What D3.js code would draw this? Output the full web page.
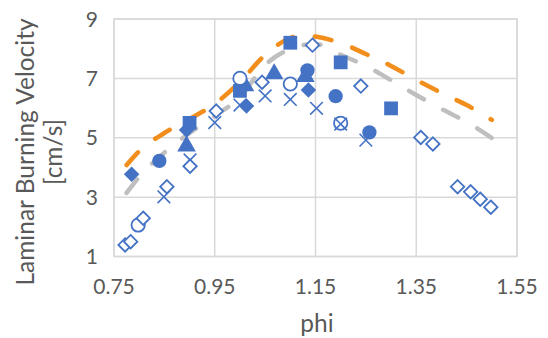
<!DOCTYPE html>
<html>
<head>
	<meta charset="utf-8">
	<title>Laminar Burning Velocity vs phi</title>
	<script src="https://cdnjs.cloudflare.com/ajax/libs/d3/7.8.5/d3.min.js"></script>
	<style type="text/css">
		body { margin: 0; background: #fff; }
		svg { display: block; font-family: Lato, "Open Sans", sans-serif; }
		.tick-label { fill: #595959; font-size: 21px; }
		.axis-title { fill: #595959; font-size: 24.5px; }
		.grid line { stroke: #d9d9d9; stroke-width: 1.5px; }
		.model { fill: none; stroke-width: 4.5px; stroke-linecap: round; stroke-dasharray: 17, 22; }
	</style>
</head>
<body>
<script type="text/javascript">
	// tick values
	var phiTicks = [0.75, 0.95, 1.15, 1.35, 1.55];
	var velTicks = [1, 3, 5, 7, 9];

	// model curves (dashed)
	var curvePhi = [0.775, 0.8, 0.85, 0.9, 0.95, 1.0, 1.05, 1.1, 1.125, 1.15, 1.2, 1.25, 1.3, 1.35, 1.4, 1.45, 1.5];
	var orangeVel = [4.08, 4.55, 5.16, 5.63, 6.14, 6.88, 7.79, 8.36, 8.46, 8.41, 8.19, 7.82, 7.42, 6.95, 6.51, 6.10, 5.60];
	var grayVel = [3.14, 3.68, 4.50, 5.16, 5.73, 6.37, 7.45, 7.99, 8.12, 8.16, 7.79, 7.42, 6.94, 6.44, 5.97, 5.53, 4.99];

	// measured series
	var triPhi = [0.894, 1.01, 1.068, 1.13];
	var triVel = [4.72, 6.75, 7.15, 7.06];
	var fDiaPhi = [0.785, 0.894, 1.013, 1.136];
	var fDiaVel = [3.77, 5.26, 6.07, 6.61];
	var oCircPhi = [0.798, 1.0, 1.10, 1.20];
	var oCircVel = [2.06, 7.0, 6.81, 5.49];
	var fCircPhi = [0.84, 1.134, 1.19, 1.257];
	var fCircVel = [4.22, 7.27, 6.40, 5.18];
	var sqPhi = [0.90, 1.0, 1.10, 1.20, 1.30];
	var sqVel = [5.50, 6.58, 8.20, 7.54, 5.99];
	var xPhi = [0.849, 0.901, 0.95, 1.0, 1.05, 1.10, 1.152, 1.20, 1.25];
	var xVel = [3.01, 4.25, 5.51, 6.10, 6.41, 6.29, 5.99, 5.46, 4.92];
	var oDiaPhi = [0.772, 0.783, 0.808, 0.855, 0.901, 0.953, 1.044, 1.144, 1.24, 1.359, 1.383, 1.432, 1.458, 1.477, 1.498];
	var oDiaVel = [1.39, 1.50, 2.29, 3.35, 4.04, 5.90, 6.87, 8.12, 6.74, 5.01, 4.79, 3.35, 3.18, 2.93, 2.66];

	function zip(a, b) {
		return a.map(function(d, i) { return { phi: d, vel: b[i] }; });
	}

	var W = 548, H = 338;
	var plotL = 114, plotR = 517, plotT = 19, plotB = 256.5;
	var blue = "#4472c4";

	var x = d3.scaleLinear().domain([0.75, 1.55]).range([plotL, plotR]);
	var y = d3.scaleLinear().domain([1, 9]).range([plotB, plotT]);

	var svg = d3.select("body").append("svg")
		.attr("width", W)
		.attr("height", H);

	// gridlines
	var grid = svg.append("g").attr("class", "grid");
	grid.selectAll("line.h")
		.data(velTicks)
		.enter().append("line")
			.attr("class", "h")
			.attr("x1", plotL).attr("x2", plotR)
			.attr("y1", function(d) { return y(d); })
			.attr("y2", function(d) { return y(d); });
	grid.selectAll("line.v")
		.data(phiTicks)
		.enter().append("line")
			.attr("class", "v")
			.attr("y1", plotT).attr("y2", plotB)
			.attr("x1", function(d) { return x(d); })
			.attr("x2", function(d) { return x(d); });

	// tick labels
	svg.append("g").selectAll("text")
		.data(velTicks)
		.enter().append("text")
			.attr("class", "tick-label")
			.attr("x", 98)
			.attr("y", function(d) { return y(d); })
			.attr("dy", "0.36em")
			.attr("text-anchor", "end")
			.text(function(d) { return d; });
	svg.append("g").selectAll("text")
		.data(phiTicks)
		.enter().append("text")
			.attr("class", "tick-label")
			.attr("x", function(d) { return x(d); })
			.attr("y", 294)
			.attr("text-anchor", "middle")
			.text(function(d) { return d3.format(".2f")(d); });

	// axis titles
	svg.append("text")
		.attr("class", "axis-title")
		.attr("x", 317).attr("y", 332)
		.attr("text-anchor", "middle")
		.text("phi");
	var yt = svg.append("text")
		.attr("class", "axis-title")
		.attr("text-anchor", "middle")
		.attr("transform", "translate(34,152) rotate(-90)");
	yt.append("tspan").attr("x", 0).attr("y", 0).text("Laminar Burning Velocity");
	yt.append("tspan").attr("x", 0).attr("y", 28).text("[cm/s]");

	// dashed model lines
	var line = d3.line()
		.x(function(d) { return x(d.phi); })
		.y(function(d) { return y(d.vel); })
		.curve(d3.curveMonotoneX);
	svg.append("path")
		.attr("class", "model")
		.attr("stroke", "#bfbfbf")
		.attr("d", line(zip(curvePhi, grayVel)));
	svg.append("path")
		.attr("class", "model")
		.attr("stroke", "#f28e1c")
		.attr("d", line(zip(curvePhi, orangeVel)));

	// marker shapes
	var diamondType = {
		draw: function(ctx, size) {
			var r = Math.sqrt(size / 2);
			ctx.moveTo(0, -r); ctx.lineTo(r, 0); ctx.lineTo(0, r); ctx.lineTo(-r, 0); ctx.closePath();
		}
	};
	var xType = {
		draw: function(ctx, size) {
			var r = Math.sqrt(size) / 2;
			ctx.moveTo(-r, -r); ctx.lineTo(r, r);
			ctx.moveTo(r, -r); ctx.lineTo(-r, r);
		}
	};

	function markers(phis, vels, type, size, fill, stroke, sw) {
		svg.append("g").selectAll("path")
			.data(zip(phis, vels))
			.enter().append("path")
				.attr("transform", function(d) { return "translate(" + x(d.phi) + "," + y(d.vel) + ")"; })
				.attr("d", d3.symbol().type(type).size(size))
				.attr("fill", fill)
				.attr("stroke", stroke)
				.attr("stroke-width", sw);
	}

	markers(triPhi, triVel, d3.symbolTriangle, 150, blue, "none", 0);
	markers(fDiaPhi, fDiaVel, diamondType, 120, blue, "none", 0);
	markers(oCircPhi, oCircVel, d3.symbolCircle, 140, "#fff", blue, 1.8);
	markers(fCircPhi, fCircVel, d3.symbolCircle, 160, blue, "none", 0);
	markers(sqPhi, sqVel, d3.symbolSquare, 190, blue, "none", 0);
	markers(xPhi, xVel, xType, 160, "none", blue, 1.6);
	markers(oDiaPhi, oDiaVel, diamondType, 90, "#fff", blue, 1.8);

	// plot border
	svg.append("rect")
		.attr("x", plotL).attr("y", plotT)
		.attr("width", plotR - plotL).attr("height", plotB - plotT)
		.attr("fill", "none")
		.attr("stroke", "#d9d9d9")
		.attr("stroke-width", 1.5);
</script>
</body>
</html>
